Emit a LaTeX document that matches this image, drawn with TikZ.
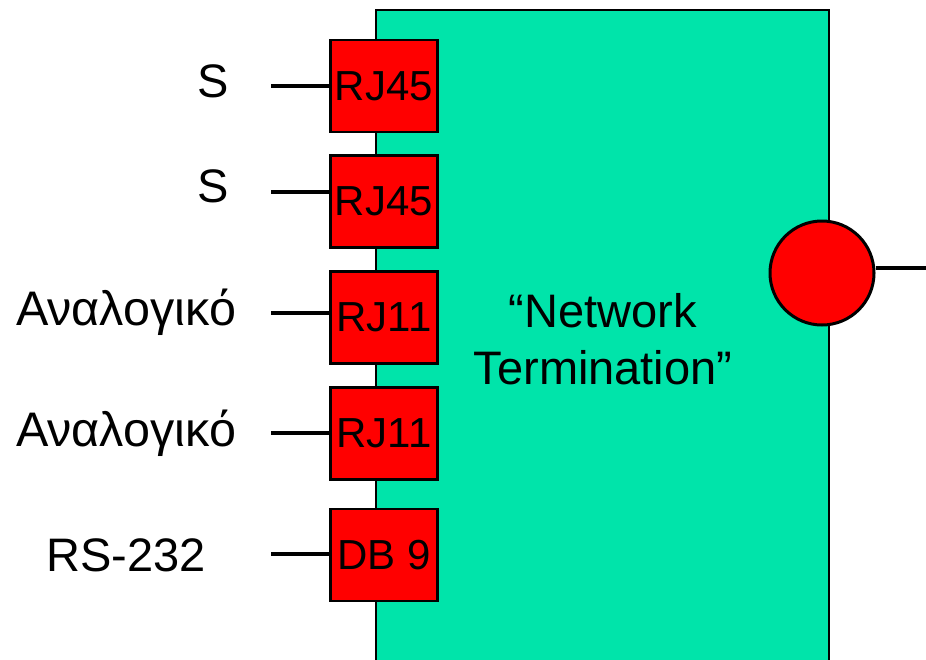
\documentclass[tikz,border=0pt]{standalone}
\usepackage{fontspec}
\setmainfont{Liberation Sans}
\definecolor{ntgreen}{RGB}{0,228,170}
\definecolor{jackred}{RGB}{255,0,0}
\begin{document}
\begin{tikzpicture}[x=1pt,y=-1pt,
  jack/.style={draw=black,line width=2.7pt,fill=jackred,minimum width=107pt,minimum height=92pt,inner sep=0pt,font=\fontsize{42}{48}\selectfont},
  lbl/.style={font=\fontsize{47}{56}\selectfont,anchor=base west,inner sep=0pt},
  wire/.style={line width=3.5pt}]
\useasboundingbox (0,0) rectangle (926,659);
% main box
\fill[ntgreen] (376,10) rectangle (829,662);
\draw[line width=2.5pt] (376,662) -- (376,10) -- (829,10) -- (829,662);
\node[align=center,font=\fontsize{47}{57}\selectfont] (nt) at (603,339) {“Network\\Termination”};
% jacks
\node[jack] (j1) at (384,86) {RJ45};
\node[jack] (j2) at (384,201.5) {RJ45};
\node[jack] (j3) at (384,317.5) {RJ11};
\node[jack] (j4) at (384,433.5) {RJ11};
\node[jack] (j5) at (384,555) {DB 9};
\coordinate (w1) at (271,86);
\coordinate (w2) at (271,192);
\coordinate (w3) at (271,313);
\coordinate (w4) at (271,433);
\coordinate (w5) at (271,554);
\draw[wire] (w1) -- (w1 -| j1.west);
\draw[wire] (w2) -- (w2 -| j2.west);
\draw[wire] (w3) -- (w3 -| j3.west);
\draw[wire] (w4) -- (w4 -| j4.west);
\draw[wire] (w5) -- (w5 -| j5.west);
% labels
\node[lbl] (l1) at (197,97) {S};
\node[lbl] (l2) at (197,202) {S};
\node[lbl,font=\fontsize{48.5}{56}\selectfont] (l3) at (16,325) {Αναλογικό};
\node[lbl,font=\fontsize{48.5}{56}\selectfont] (l4) at (16,446) {Αναλογικό};
\node[lbl] (l5) at (46,571) {RS-232};
% circle
\node[circle,draw=black,line width=3pt,fill=jackred,minimum size=104pt,inner sep=0pt] (c) at (822,273) {};
\coordinate (out) at (926,268);
\draw[wire] (c.east |- out) -- (out);
\end{tikzpicture}
\end{document}
